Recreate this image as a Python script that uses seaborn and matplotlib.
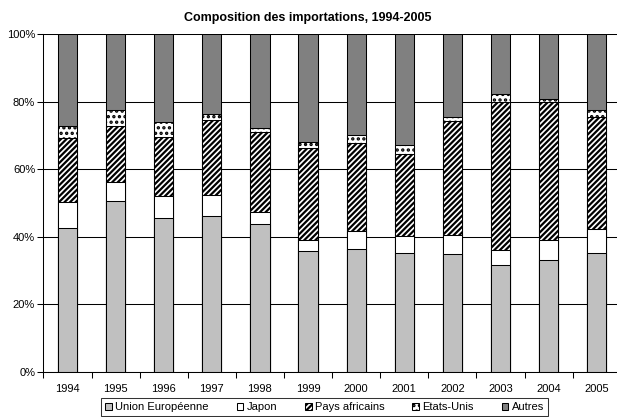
import matplotlib
matplotlib.use("Agg")
import matplotlib.pyplot as plt
import pandas as pd
import seaborn as sns
from matplotlib.patches import Patch
from matplotlib.ticker import PercentFormatter, FixedLocator

# Parts des importations par origine (en %)
annees = ["1994", "1995", "1996", "1997", "1998", "1999",
          "2000", "2001", "2002", "2003", "2004", "2005"]
union_europeenne = [42.5, 50.6, 45.4, 46.2, 43.7, 35.9, 36.5, 35.3, 34.8, 31.6, 33.1, 35.3]
japon = [7.9, 5.7, 6.6, 6.2, 3.7, 3.0, 5.2, 4.9, 5.7, 4.4, 5.9, 7.0]
pays_africains = [18.9, 16.5, 17.4, 22.2, 23.7, 27.3, 26.2, 24.3, 33.8, 44.0, 40.8, 33.1]
etats_unis = [3.6, 4.7, 4.7, 1.8, 1.2, 1.9, 2.2, 2.7, 1.3, 2.2, 1.0, 2.1]
autres = [27.1, 22.5, 25.9, 23.6, 27.7, 31.9, 29.9, 32.8, 24.4, 17.8, 19.2, 22.5]

series = ["Union Européenne", "Japon", "Pays africains", "Etats-Unis", "Autres"]
valeurs = [union_europeenne, japon, pays_africains, etats_unis, autres]
styles = {
    "Union Européenne": dict(color="#c0c0c0", hatch=None),
    "Japon": dict(color="#ffffff", hatch=None),
    "Pays africains": dict(color="#ffffff", hatch="//////"),
    "Etats-Unis": dict(color="#ffffff", hatch="..."),
    "Autres": dict(color="#808080", hatch=None),
}

# Table longue avec le haut cumulé de chaque segment
lignes = []
for i, an in enumerate(annees):
    cumul = 0.0
    for nom, vals in zip(series, valeurs):
        cumul += vals[i]
        lignes.append({"annee": an, "serie": nom, "part": vals[i], "haut": cumul})
df = pd.DataFrame(lignes)

sns.set_theme(style="white")
plt.rcParams["font.family"] = ["Liberation Sans", "DejaVu Sans"]
plt.rcParams["hatch.linewidth"] = 1.6
plt.rcParams["hatch.color"] = "black"

fig = plt.figure(figsize=(6.17, 4.17), dpi=100)
ax = fig.add_axes([0.0705, 0.1086, 0.9355, 0.8094])
ax.set_axisbelow(True)

# Empilement : on trace du haut vers le bas, chaque barre cumulée masquant les suivantes
for nom in reversed(series):
    st = styles[nom]
    sub = df[df["serie"] == nom]
    kw = {}
    if st["hatch"]:
        kw["hatch"] = st["hatch"]
    sns.barplot(data=sub, x="annee", y="haut", order=annees, color=st["color"],
                saturation=1, width=0.4, edgecolor="black", linewidth=0.75,
                errorbar=None, ax=ax, **kw)

ax.set_xlim(-0.5, len(annees) - 0.5)
ax.set_ylim(0, 100)
ax.set_yticks([0, 20, 40, 60, 80, 100])
ax.yaxis.set_major_formatter(PercentFormatter(decimals=0))
ax.set_xlabel("")
ax.set_ylabel("")

ax.yaxis.grid(True, color="black", linewidth=0.75)
ax.xaxis.grid(False)
for s in ["top", "right"]:
    ax.spines[s].set_visible(False)
for s in ["left", "bottom"]:
    ax.spines[s].set_color("black")
    ax.spines[s].set_linewidth(0.75)

ax.tick_params(axis="y", which="major", direction="out", length=4, width=0.75,
               color="black", labelsize=8, pad=2, left=True)
ax.tick_params(axis="x", which="major", length=0, labelsize=8, pad=9)
ax.xaxis.set_minor_locator(FixedLocator([i - 0.5 for i in range(len(annees) + 1)]))
ax.tick_params(axis="x", which="minor", direction="out", length=4, width=0.75,
               color="black", bottom=True)
for lab in ax.get_xticklabels() + ax.get_yticklabels():
    lab.set_color("black")

fig.text(0.498, 0.958, "Composition des importations, 1994-2005",
         ha="center", va="center", fontsize=9, fontweight="bold", color="black")

poignees = [Patch(facecolor=styles[n]["color"], edgecolor="black", linewidth=0.75,
                  hatch=styles[n]["hatch"], label=n) for n in series]
leg = fig.legend(handles=poignees, loc="center", bbox_to_anchor=(0.526, 0.024),
                 ncol=5, fontsize=8, frameon=True, fancybox=False, shadow=False,
                 handlelength=0.6, handleheight=0.6, handletextpad=0.3,
                 columnspacing=2.5, borderpad=0.35)
leg.get_frame().set_edgecolor("black")
leg.get_frame().set_linewidth(0.75)
for t in leg.get_texts():
    t.set_color("black")

fig.savefig("out.png", dpi=100)
